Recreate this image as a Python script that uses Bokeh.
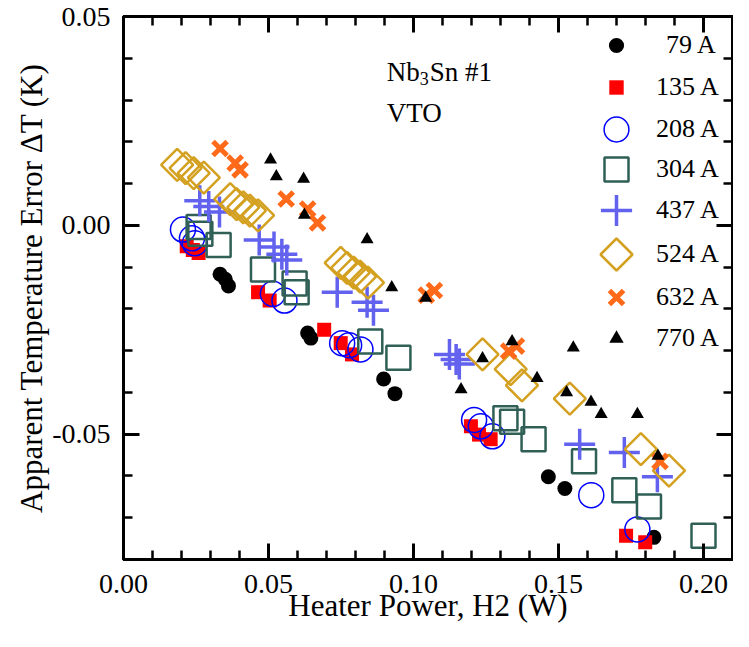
from bokeh.plotting import figure
from bokeh.models import (Legend, LegendItem, Label, LinearAxis, SingleIntervalTicker,
                          PrintfTickFormatter, CustomJSTickFormatter, CustomJS)
from bokeh.embed import file_html
from bokeh.resources import INLINE

# ---------------- data (heater power W, apparent temperature error K) ----------------
labels = ["79 A", "135 A", "208 A", "304 A", "437 A", "524 A", "632 A", "770 A"]

x_79 = [0.0333, 0.0351, 0.0362, 0.0635, 0.0646, 0.0897, 0.0936, 0.1465, 0.1522, 0.1829]
y_79 = [-0.0117, -0.0129, -0.0145, -0.0258, -0.0270, -0.0368, -0.0403, -0.0602, -0.0630, -0.0747]

x_135 = [0.0218, 0.0239, 0.0259, 0.0464, 0.0504, 0.0692, 0.0749, 0.0788, 0.1198, 0.1226, 0.1266, 0.1733, 0.1799]
y_135 = [-0.0050, -0.0059, -0.0066, -0.0160, -0.0180, -0.0250, -0.0282, -0.0309, -0.0481, -0.0501, -0.0512, -0.0743, -0.0759]

x_208 = [0.0205, 0.0236, 0.0246, 0.0515, 0.0555, 0.0754, 0.0778, 0.0817, 0.1209, 0.1232, 0.1272, 0.1613, 0.1772]
y_208 = [-0.0010, -0.0031, -0.0043, -0.0164, -0.0180, -0.0282, -0.0287, -0.0297, -0.0466, -0.0481, -0.0505, -0.0646, -0.0728]

x_304 = [0.0259, 0.0265, 0.0328, 0.0481, 0.0590, 0.0597, 0.0851, 0.0948, 0.1317, 0.1340, 0.1414, 0.1588, 0.1727, 0.1812, 0.2000]
y_304 = [-0.0004, -0.0020, -0.0047, -0.0106, -0.0139, -0.0160, -0.0278, -0.0317, -0.0462, -0.0470, -0.0512, -0.0565, -0.0634, -0.0673, -0.0743]

x_437 = [0.0263, 0.0294, 0.0331, 0.0468, 0.0519, 0.0546, 0.0563, 0.0737, 0.0840, 0.0862, 0.1124, 0.1147, 0.1158, 0.1573, 0.1727, 0.1841]
y_437 = [0.0059, 0.0045, 0.0032, -0.0035, -0.0052, -0.0069, -0.0083, -0.0160, -0.0184, -0.0203, -0.0309, -0.0321, -0.0332, -0.0524, -0.0544, -0.0602]

x_524 = [0.0185, 0.0214, 0.0242, 0.0277, 0.0368, 0.0390, 0.0413, 0.0436, 0.0464, 0.0749, 0.0771, 0.0794, 0.0816, 0.0843, 0.1238, 0.1335, 0.1374, 0.1539, 0.1784, 0.1881]
y_524 = [0.0145, 0.0137, 0.0125, 0.0114, 0.0063, 0.0051, 0.0043, 0.0035, 0.0024, -0.0090, -0.0102, -0.0113, -0.0123, -0.0137, -0.0309, -0.0344, -0.0383, -0.0415, -0.0536, -0.0587]

x_632 = [0.0333, 0.0385, 0.0402, 0.0561, 0.0635, 0.0669, 0.1044, 0.1072, 0.1328, 0.1355, 0.1850]
y_632 = [0.0184, 0.0149, 0.0133, 0.0063, 0.0039, 0.0006, -0.0167, -0.0156, -0.0301, -0.0289, -0.0565]

x_770 = [0.0507, 0.0527, 0.0621, 0.0624, 0.0840, 0.0925, 0.1042, 0.1164, 0.1238, 0.1340, 0.1426, 0.1528, 0.1551, 0.1612, 0.1647, 0.1772, 0.1843]
y_770 = [0.0157, 0.0117, 0.0111, 0.0025, -0.0034, -0.0149, -0.0174, -0.0393, -0.0319, -0.0278, -0.0366, -0.0400, -0.0293, -0.0423, -0.0452, -0.0452, -0.0552]

xs = [x_79, x_135, x_208, x_304, x_437, x_524, x_632, x_770]
ys = [y_79, y_135, y_208, y_304, y_437, y_524, y_632, y_770]

# custom square-diamond marker (equal width and height)
diamond_def = CustomJS(code="""
export default (args, obj, {ctx, i, r, visuals}) => {
  ctx.beginPath()
  ctx.moveTo(0, -r)
  ctx.lineTo(r, 0)
  ctx.lineTo(0, r)
  ctx.lineTo(-r, 0)
  ctx.closePath()
  visuals.fill.apply(ctx, i)
  visuals.line.apply(ctx, i)
}
""")

# ---------------- styles ----------------
styles = [
    dict(marker="circle", size=15, fill_color="black", line_color=None, line_width=1),
    dict(marker="square", size=14, fill_color="#ff0000", line_color=None, line_width=1),
    dict(marker="circle", size=25, fill_color=None, line_color="#0000ff", line_width=1.5),
    dict(marker="square", size=24, fill_color=None, line_color="#2f5f55", line_width=2.5),
    dict(marker="cross", size=31, fill_color=None, line_color="#6262ee", line_width=3.5),
    dict(marker="@diamond", size=32, fill_color=None, line_color="#d4a020", line_width=2.5),
    dict(marker="x", size=20, fill_color=None, line_color="#ff6a1a", line_width=5),
    dict(marker="triangle", size=13, fill_color="black", line_color=None, line_width=1),
]

FONT = "Liberation Serif"
W, H = 733, 631
BL, BR, BT, BB = 123, 1, 16, 72
FRAME_H = H - BT - BB

p = figure(width=W, height=H, x_range=(0.0, 0.21), y_range=(-0.08, 0.05),
           output_backend="svg", toolbar_location=None,
           min_border_left=BL, min_border_right=BR, min_border_top=BT, min_border_bottom=BB,
           background_fill_color="white", border_fill_color="white")
p.grid.visible = False
p.outline_line_color = "black"
p.outline_line_width = 3

xt = SingleIntervalTicker(interval=0.05, num_minor_ticks=5)
yt = SingleIntervalTicker(interval=0.05, num_minor_ticks=5)


def style_axis(ax):
    ax.axis_line_width = 3
    ax.axis_line_color = "black"
    ax.major_tick_in = 16
    ax.major_tick_out = 0
    ax.minor_tick_in = 9
    ax.minor_tick_out = 0
    ax.major_tick_line_width = 3
    ax.minor_tick_line_width = 2.5
    ax.major_tick_line_color = "black"
    ax.minor_tick_line_color = "black"
    ax.major_label_text_font = FONT
    ax.major_label_text_color = "black"
    ax.axis_label_text_font = FONT
    ax.axis_label_text_font_style = "normal"
    ax.axis_label_text_color = "black"


p.xaxis.ticker = xt
p.yaxis.ticker = yt
for ax in [p.xaxis[0], p.yaxis[0]]:
    style_axis(ax)
    ax.major_label_text_font_size = "28px"
    ax.axis_label_text_font_size = "31px"
    ax.formatter = PrintfTickFormatter(format="%.2f")

p.xaxis.axis_label = "Heater Power, H2 (W)"
p.yaxis.axis_label = "Apparent Temperature Error \u0394T (K)"
p.xaxis.major_label_standoff = 15
p.xaxis.axis_label_standoff = -8
p.yaxis.major_label_standoff = 13
p.yaxis.axis_label_standoff = 0

blank = CustomJSTickFormatter(code="return ''")
top = LinearAxis(ticker=xt, formatter=blank)
right = LinearAxis(ticker=yt, formatter=blank)
for ax in [top, right]:
    style_axis(ax)
    ax.major_label_text_font_size = "0px"
    ax.major_label_standoff = 0
p.add_layout(top, "above")
p.add_layout(right, "right")

renderers = []
for x, y, st in zip(xs, ys, styles):
    extra = {"defs": {"@diamond": diamond_def}} if st["marker"].startswith("@") else {}
    r = p.scatter(x=x, y=y, marker=st["marker"], size=st["size"],
                  fill_color=st["fill_color"], line_color=st["line_color"],
                  line_width=st["line_width"], **extra)
    renderers.append(r)

# ---------------- legend (one Legend per entry, right column) ----------------
row_page = [45.0, 87.3, 128.3, 169.3, 210.7, 254.0, 296.7, 338.3]  # row centres, px from top
GW = 80
for lab, r, st, yp in zip(labels, renderers, styles, row_page):
    yc = yp - BT
    gh = max(st["size"] / 0.4, 36)
    standoff = -3 if len(lab) == 5 else 10
    leg = Legend(items=[LegendItem(label=lab, renderers=[r])],
                 location=(453, FRAME_H - yc - gh / 2),
                 glyph_width=GW, glyph_height=int(round(gh)),
                 label_standoff=standoff, padding=0, margin=0, spacing=0,
                 background_fill_alpha=0, border_line_alpha=0,
                 label_text_font=FONT, label_text_font_size="26px",
                 label_text_color="black", click_policy="none")
    p.add_layout(leg)

# ---------------- annotations ----------------
ann = dict(text_font=FONT, text_color="black", text_baseline="alphabetic")
p.add_layout(Label(x=0.0908, y=0.0368, text="Nb", text_font_size="27px", **ann))
p.add_layout(Label(x=0.0908, y=0.0368, x_offset=33, y_offset=-7, text="3",
                   text_font_size="18px", **ann))
p.add_layout(Label(x=0.0908, y=0.0368, x_offset=43, text="Sn #1", text_font_size="27px", **ann))
p.add_layout(Label(x=0.0908, y=0.0269, text="VTO", text_font_size="27px", **ann))

open("out.html", "w").write(file_html(p, INLINE))
